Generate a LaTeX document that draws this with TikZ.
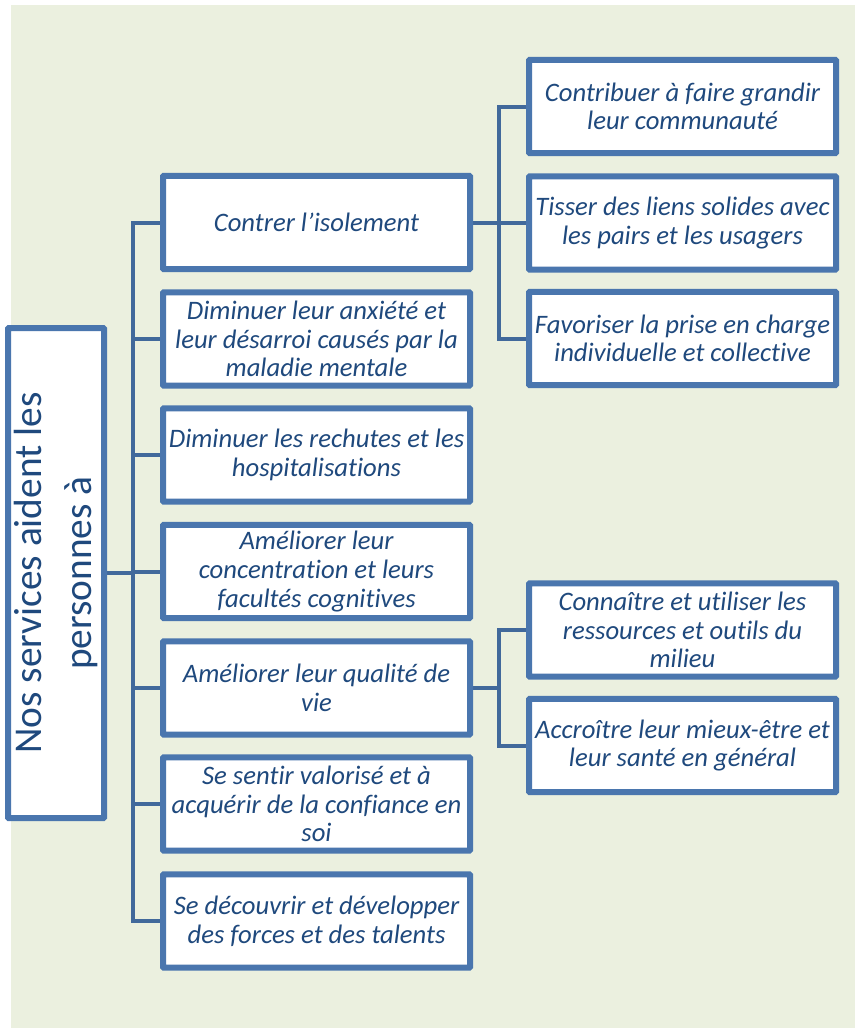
\documentclass[tikz,border=0pt]{standalone}
\usepackage{fontspec}
\setmainfont{Carlito}[Ligatures=NoCommon]
\definecolor{bgc}{HTML}{EBF0DF}
\definecolor{boxc}{HTML}{4A76AE}
\definecolor{linec}{HTML}{41699B}
\definecolor{txtc}{HTML}{1F497D}
\begin{document}
\begin{tikzpicture}[x=0.75pt,y=-0.75pt,
  l1box/.style={draw=boxc, line width=3pt, fill=white, rounded corners=1pt,
    minimum width=228.75pt, minimum height=68.5pt, inner sep=0pt,
    align=center, text=txtc, font=\fontsize{20}{21.5}\selectfont\itshape},
  rootbox/.style={draw=boxc, line width=3pt, fill=white, rounded corners=1pt,
    minimum width=366pt, minimum height=70.5pt, inner sep=0pt,
    align=center, text=txtc, font=\fontsize{29.5}{37.5}\selectfont, rotate=90},
  conn/.style={draw=linec, line width=3pt, line join=miter}]
\useasboundingbox (0,0) rectangle (855,1028);
\fill[bgc] (11,5) rectangle (855,1028);
% nodes
\node[rootbox] (root) at (56,573) {Nos services aident les\\personnes à};
\node[l1box] (b1) at (316.5,222.5) {Contrer l’isolement};
\node[l1box] (b2) at (316.5,339) {Diminuer leur anxiété et\\leur désarroi causés par la\\maladie mentale};
\node[l1box] (b3) at (316.5,455) {Diminuer les rechutes et les\\hospitalisations};
\node[l1box] (b4) at (316.5,571.5) {Améliorer leur\\concentration et leurs\\facultés cognitives};
\node[l1box] (b5) at (316.5,688) {Améliorer leur qualité de\\vie};
\node[l1box] (b6) at (316.5,804) {Se sentir valorisé et à\\acquérir de la confiance en\\soi};
\node[l1box] (b7) at (316.5,921) {Se découvrir et développer\\des forces et des talents};
\node[l1box] (c1) at (682.5,106.5) {Contribuer à faire grandir\\leur communauté};
\node[l1box] (c2) at (682.5,223) {Tisser des liens solides avec\\les pairs et les usagers};
\node[l1box] (c3) at (682.5,338.5) {Favoriser la prise en charge\\individuelle et collective};
\node[l1box] (d1) at (682.5,630) {Connaître et utiliser les\\ressources et outils du\\milieu};
\node[l1box] (d2) at (682.5,745.5) {Accroître leur mieux-être et\\leur santé en général};
% spine coordinates
\coordinate (s1) at (133,0);
\coordinate (s2) at (499,0);
% connectors level 1
\draw[conn] (b1.west) -- (b1.west -| s1) -- (b7.west -| s1) -- (b7.west);
\draw[conn] (root.south) -- (root.south -| s1);
\foreach \n in {b2,b3,b4,b5,b6}{\draw[conn] (\n.west) -- (\n.west -| s1);}
% connectors level 2
\draw[conn] (b1.east) -- (b1.east -| s2);
\draw[conn] (c1.west) -- (c1.west -| s2) -- (c3.west -| s2) -- (c3.west);
\draw[conn] (c2.west) -- (c2.west -| s2);
\draw[conn] (b5.east) -- (b5.east -| s2);
\draw[conn] (d1.west) -- (d1.west -| s2) -- (d2.west -| s2) -- (d2.west);
% redraw box outlines over connector ends
\foreach \n in {root,b1,b2,b3,b4,b5,b6,b7,c1,c2,c3,d1,d2}{\draw[draw=boxc, line width=3pt, rounded corners=1pt] (\n.north west) rectangle (\n.south east);}
\end{tikzpicture}
\end{document}
